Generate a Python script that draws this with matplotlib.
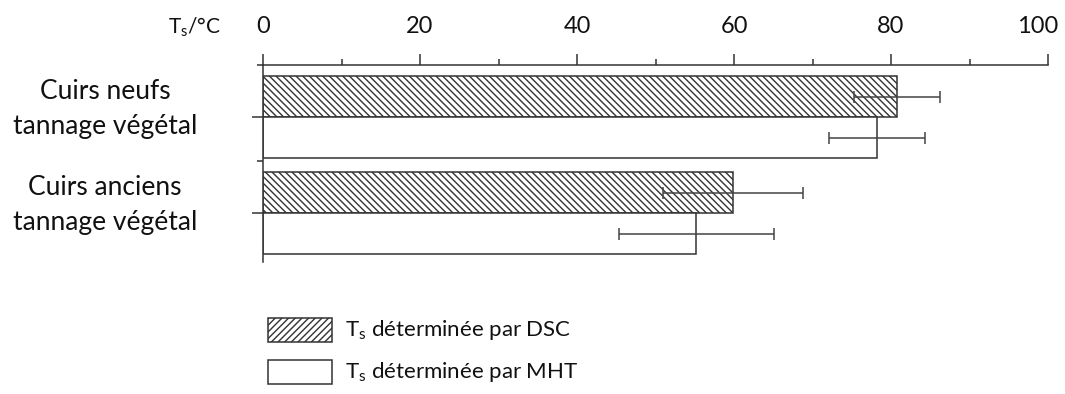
import matplotlib
matplotlib.use("Agg")
import matplotlib.pyplot as plt
import matplotlib.transforms as mtransforms
from matplotlib.patches import Rectangle
import numpy as np

plt.rcParams['font.family'] = ['Lato', 'DejaVu Sans']
plt.rcParams['mathtext.fontset'] = 'custom'
plt.rcParams['mathtext.rm'] = 'Lato'
plt.rcParams['mathtext.it'] = 'Lato:italic'
plt.rcParams['hatch.linewidth'] = 1.0
plt.rcParams['hatch.color'] = '#333333'

# ---- data ----
categories = ["Cuirs neufs\ntannage végétal", "Cuirs anciens\ntannage végétal"]
dsc_values = [80.8, 59.9]
dsc_errors = [5.5, 8.9]
mht_values = [78.2, 55.2]
mht_errors = [6.1, 9.9]
xticks = [0, 20, 40, 60, 80, 100]
legend_labels = ["T$_\\mathrm{s}$ déterminée par DSC", "T$_\\mathrm{s}$ déterminée par MHT"]
axis_label = "T$_\\mathrm{s}$/°C"

W, H = 1065, 394
fig = plt.figure(figsize=(W / 100, H / 100), dpi=100)
ax = fig.add_axes([263 / W, 1 - 262 / H, (1048 - 263) / W, (262 - 65) / H])

edge = '#333333'
bh = 0.427
y = np.arange(len(categories))
ax.barh(y - bh / 2, dsc_values, height=bh, color='white', edgecolor=edge,
        hatch='\\' * 5, linewidth=1.1, zorder=2)
ax.barh(y + bh / 2, mht_values, height=bh, color='white', edgecolor=edge,
        linewidth=1.1, zorder=2)
ax.errorbar(dsc_values, y - bh / 2, xerr=dsc_errors, fmt='none', ecolor='#444444',
            elinewidth=1.1, capsize=4, capthick=1.1, zorder=3)
ax.errorbar(mht_values, y + bh / 2, xerr=mht_errors, fmt='none', ecolor='#444444',
            elinewidth=1.1, capsize=4, capthick=1.1, zorder=3)

ax.set_xlim(0, 100)
ax.set_ylim(1.51, -0.542)

for s in ['right', 'bottom']:
    ax.spines[s].set_visible(False)
for s in ['top', 'left']:
    ax.spines[s].set_color(edge)
    ax.spines[s].set_linewidth(1.1)

ax.xaxis.set_ticks_position('top')
ax.set_xticks(xticks)
ax.set_xticklabels([str(v) for v in xticks])
ax.set_xticks([10, 30, 50, 70, 90], minor=True)
ax.tick_params(axis='x', which='major', direction='out', length=8, width=1.1,
               color=edge, pad=12, labelsize=17, labelcolor='#111111')
ax.tick_params(axis='x', which='minor', direction='out', length=4, width=1.1, color=edge)
# last label shifted slightly left to stay inside the figure (as in the reference)
last = ax.get_xticklabels()[-1]
last.set_transform(last.get_transform() + mtransforms.ScaledTranslation(-10 / 100, 0, fig.dpi_scale_trans))

ax.set_yticks(y)
ax.set_yticklabels([''] * len(categories))
ax.set_yticks([-0.542, 0.458], minor=True)
ax.tick_params(axis='y', which='major', direction='out', length=8, width=1.1, color=edge)
ax.tick_params(axis='y', which='minor', direction='out', length=4, width=1.1, color=edge)

# category labels
trans = mtransforms.blended_transform_factory(fig.transFigure, ax.transData) + \
    mtransforms.ScaledTranslation(0, 8 / 100, fig.dpi_scale_trans)
for yi, lab in zip(y, categories):
    ax.text(105 / W, yi, lab, transform=trans, ha='center', va='center',
            fontsize=19, color='#111111', linespacing=1.5)

# axis unit label
fig.text(195 / W, 1 - 27 / H, axis_label, ha='center', va='center', fontsize=15, color='#111111')

# legend (manual)
boxes = [(268, 318, '/' * 5), (268, 360, None)]
for (bx, by, hatch), lab in zip(boxes, legend_labels):
    r = Rectangle((bx / W, 1 - (by + 24) / H), 64 / W, 24 / H, transform=fig.transFigure,
                  facecolor='white', edgecolor=edge, linewidth=1.1, hatch=hatch)
    fig.add_artist(r)
    fig.text(345 / W, 1 - (by + 12) / H, lab, ha='left', va='center', fontsize=16, color='#111111')

fig.savefig('out.png', dpi=100)
